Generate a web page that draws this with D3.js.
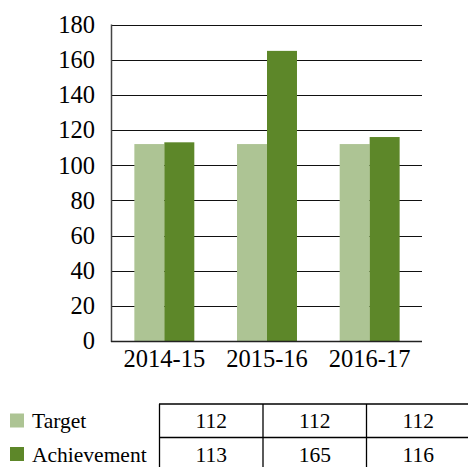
<!DOCTYPE html>
<html>
<head>
<meta charset="utf-8">
<script src="https://cdn.jsdelivr.net/npm/d3@7"></script>
</head>
<body style="margin:0; background:#fff">
<div id="chart"></div>
<script>

  // data
  var years = ["2014-15", "2015-16", "2016-17"];
  var seriesNames = ["Target", "Achievement"];
  var target = [112, 112, 112];
  var achievement = [113, 165, 116];
  var yTicks = [0, 20, 40, 60, 80, 100, 120, 140, 160, 180];

  var colors = {Target: "#adc494", Achievement: "#5d8729"};
  var font = "Liberation Serif";

  var width = 468, height = 467;

  var svg = d3.select("#chart")
    .append("svg")
      .attr("width", width)
      .attr("height", height)
      .attr("font-family", font);

  var seriesValues = {Target: target, Achievement: achievement};

  // scales
  var x = d3.scaleBand()
    .domain(years)
    .range([113, 421]);

  var x1 = d3.scaleBand()
    .domain(seriesNames)
    .range([x.bandwidth() * 0.208, x.bandwidth() * 0.792]);

  var y = d3.scaleLinear()
    .domain([0, 180])
    .range([341, 24.5]);

  // gridlines
  svg.append("g")
    .selectAll("line")
    .data(yTicks)
    .enter()
    .append("line")
      .attr("x1", 111)
      .attr("x2", 422)
      .attr("y1", function(d) { return Math.round(y(d)) + 0.5; })
      .attr("y2", function(d) { return Math.round(y(d)) + 0.5; })
      .attr("stroke", "#111")
      .attr("stroke-width", 1.2);

  // y axis labels
  var yAxis = svg.append("g")
    .attr("transform", "translate(111,0)")
    .call(d3.axisLeft(y).tickValues(yTicks).tickSize(0).tickPadding(16));
  yAxis.attr("font-family", font).attr("font-size", 24.5);
  yAxis.select(".domain").remove();
  yAxis.selectAll("text")
    .attr("fill", "#000")
    .style("font-family", font)
    .style("font-size", "24.5px");

  // bars
  var groups = svg.append("g")
    .selectAll("g")
    .data(years)
    .enter()
    .append("g")
      .attr("transform", function(d) { return "translate(" + x(d) + ",0)"; });

  groups.selectAll("rect")
    .data(function(d, i) {
      return seriesNames.map(function(s) { return {key: s, value: seriesValues[s][i]}; });
    })
    .enter()
    .append("rect")
      .attr("x", function(d) { return x1(d.key); })
      .attr("y", function(d) { return y(d.value); })
      .attr("width", x1.bandwidth())
      .attr("height", function(d) { return y(0) - y(d.value); })
      .attr("fill", function(d) { return colors[d.key]; });

  // left axis line and bottom line
  svg.append("line")
    .attr("x1", 111.5).attr("x2", 111.5)
    .attr("y1", y(180)).attr("y2", y(0) + 1)
    .attr("stroke", "#444")
    .attr("stroke-width", 1.5);

  svg.append("line")
    .attr("x1", 111).attr("x2", 422)
    .attr("y1", Math.round(y(0)) + 0.5).attr("y2", Math.round(y(0)) + 0.5)
    .attr("stroke", "#222")
    .attr("stroke-width", 1.5);

  // x axis labels
  var xAxis = svg.append("g")
    .attr("transform", "translate(0," + y(0) + ")")
    .call(d3.axisBottom(x).tickSize(0).tickPadding(9));
  xAxis.attr("font-family", font).attr("font-size", 24.5);
  xAxis.select(".domain").remove();
  xAxis.selectAll("text")
    .attr("fill", "#000")
    .style("font-family", font)
    .style("font-size", "24.5px");

  // data table
  var tx = d3.scaleBand()
    .domain(years)
    .range([159.5, 470]);

  var rowTop = [404, 437.5];
  var rowH = 33.5;

  var table = svg.append("g");

  seriesNames.forEach(function(s, r) {
    // legend key
    table.append("rect")
      .attr("x", 10)
      .attr("y", rowTop[r] + 9.5)
      .attr("width", 14)
      .attr("height", 14)
      .attr("fill", colors[s]);
    table.append("text")
      .attr("x", 32)
      .attr("y", rowTop[r] + 24)
      .style("font-family", font)
      .style("font-size", "21.5px")
      .text(s);

    table.selectAll(null)
      .data(seriesValues[s])
      .enter()
      .append("text")
        .attr("x", function(d, i) { return tx(years[i]) + tx.bandwidth() / 2; })
        .attr("y", rowTop[r] + 24)
        .attr("text-anchor", "middle")
        .style("font-family", font)
        .style("font-size", "21.5px")
        .text(function(d) { return d; });
  });

  // table borders
  table.selectAll(".hline")
    .data([rowTop[0], rowTop[1], rowTop[1] + rowH])
    .enter()
    .append("line")
      .attr("x1", 159).attr("x2", 470)
      .attr("y1", function(d) { return d; })
      .attr("y2", function(d) { return d; })
      .attr("stroke", "#000")
      .attr("stroke-width", 1.3);

  table.selectAll(".vline")
    .data(years)
    .enter()
    .append("line")
      .attr("x1", function(d) { return tx(d); })
      .attr("x2", function(d) { return tx(d); })
      .attr("y1", rowTop[0])
      .attr("y2", rowTop[1] + rowH)
      .attr("stroke", "#000")
      .attr("stroke-width", 1.3);

</script>
</body>
</html>
